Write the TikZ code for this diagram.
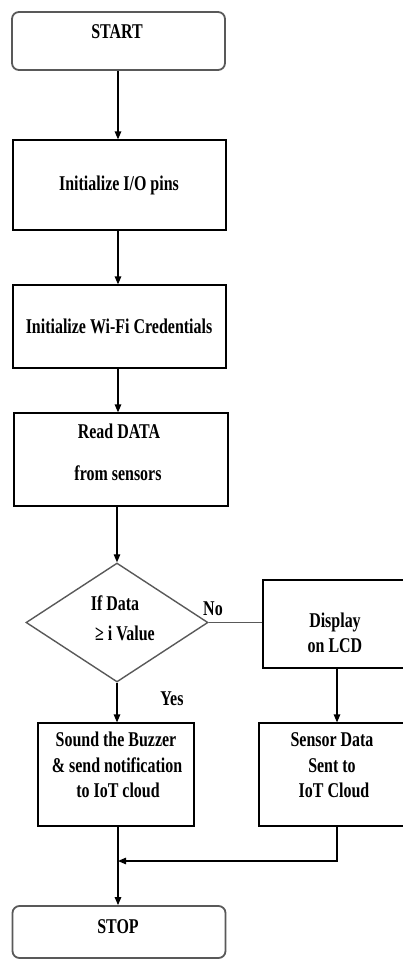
\documentclass[tikz,border=0pt]{standalone}
\usepackage{fontspec}
\setmainfont{Liberation Serif}[FakeStretch=0.76]
\usetikzlibrary{arrows.meta,shapes.geometric}
\begin{document}
\begin{tikzpicture}[x=1pt,y=-1pt,
  box/.style={draw=black,line width=1.2pt,minimum width=#1,inner sep=0pt},
  term/.style={draw=black!65,line width=1.8pt,rounded corners=7pt,minimum width=213pt,inner sep=0pt},
  txt/.style={anchor=base,inner sep=0pt,font=\fontsize{21}{25}\selectfont\bfseries},
  arr/.style={line width=1.2pt,-{Triangle[length=8pt,width=6.5pt]}},
  ln/.style={line width=1.4pt}]
\useasboundingbox (0,0) rectangle (403,961);
% boxes
\node[term,minimum height=58pt] (start) at (118.5,41) {};
\node[box=213pt,minimum height=90pt] (io) at (119.5,185) {};
\node[box=213pt,minimum height=83pt] (wifi) at (119.5,326.5) {};
\node[box=214pt,minimum height=93pt] (read) at (121,459.5) {};
\node[diamond,draw=black!65,line width=1.4pt,minimum width=182pt,minimum height=119pt,inner sep=0pt,aspect=1.53] (dec) at (117,622.5) {};
\node[box=147pt,minimum height=88pt] (disp) at (336.5,624) {};
\node[box=151pt,minimum height=103pt] (sens) at (334.5,774.5) {};
\node[box=156pt,minimum height=103pt] (buzz) at (116,774.5) {};
\node[term,minimum height=52pt] (stop) at (119,932) {};
% texts
\node[txt] (tstart) at (117,38) {START};
\node[txt] (tio) at (119,190) {Initialize I/O pins};
\node[txt] (twifi) at (119,333) {Initialize Wi-Fi Credentials};
\node[txt] (tread1) at (119,438) {Read DATA};
\node[txt] (tread2) at (118,480) {from sensors};
\node[txt] (tdec1) at (115,610) {If Data};
\node[txt] (tdec2) at (125,640) {≥ i Value};
\node[txt] (tno) at (213,615) {No};
\node[txt] (tyes) at (172,705) {Yes};
\node[txt] (tdisp1) at (335,627) {Display};
\node[txt] (tdisp2) at (335,652) {on LCD};
\node[txt] (tbuzz1) at (116,746) {Sound the Buzzer};
\node[txt] (tbuzz2) at (117,772) {\& send notification};
\node[txt] (tbuzz3) at (118,797) {to IoT cloud};
\node[txt] (tsens1) at (332,746) {Sensor Data};
\node[txt] (tsens2) at (332,772) {Sent to};
\node[txt] (tsens3) at (334,797) {IoT Cloud};
\node[txt] (tstop) at (118,933) {STOP};
% connectors
\coordinate (j) at (118,861);
\draw[arr] (118,0|-start.south) -- (118,0|-io.north);
\draw[arr] (118,0|-io.south) -- (118,0|-wifi.north);
\draw[arr] (118,0|-wifi.south) -- (118,0|-read.north);
\draw[arr] (dec.north|-read.south) -- (dec.north);
\draw[arr] (dec.south) -- (dec.south|-buzz.north);
\draw[ln,draw=black!65] (dec.east) -- (disp.west|-dec.east);
\draw[arr] (337,0|-disp.south) -- (337,0|-sens.north);
\draw[arr] (118,0|-buzz.south) -- (118,0|-stop.north);
\draw[arr] (337,0|-sens.south) |- (j);
\end{tikzpicture}
\end{document}
